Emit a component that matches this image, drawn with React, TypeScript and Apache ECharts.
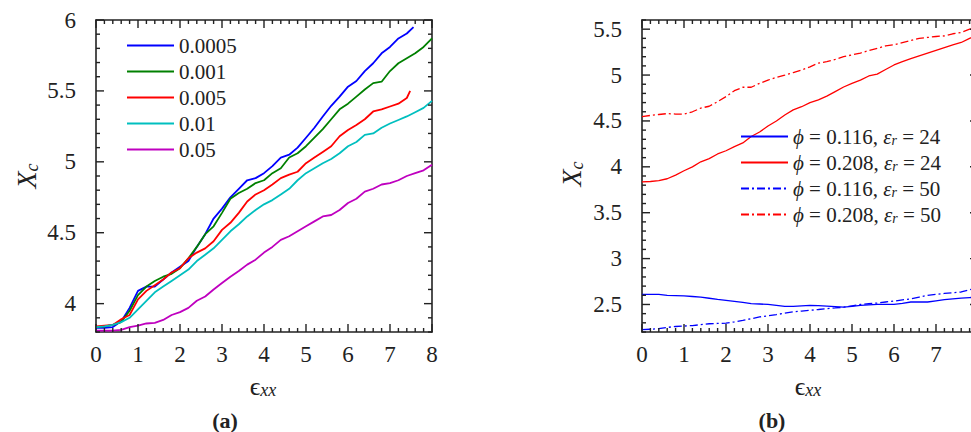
import React, { useEffect, useRef } from "react";
import * as echarts from "echarts";

const FONT = "Liberation Serif, DejaVu Serif, serif";
const INK = "#222222";

// shared strain grid (epsilon_xx), step 0.2
const strain: number[] = Array.from({ length: 41 }, (_, i) => Math.round(i * 2) / 10);

// ---------- panel (a) ----------
const namesA = ["0.0005", "0.001", "0.005", "0.01", "0.05"];
const colorsA = ["#0000ff", "#008000", "#ff0000", "#00bfbf", "#bf00bf"];
const rate0005 = [3.83, 3.83, 3.835, 3.875, 3.97, 4.09, 4.12, 4.12, 4.17, 4.22, 4.26, 4.3, 4.4, 4.49, 4.6, 4.67, 4.75, 4.81, 4.87, 4.885, 4.92, 4.97, 5.03, 5.05, 5.1, 5.17, 5.24, 5.32, 5.395, 5.46, 5.53, 5.57, 5.64, 5.695, 5.765, 5.81, 5.87, 5.905];
const rate0005End = [7.56, 5.95];
const rate001 = [3.835, 3.84, 3.85, 3.87, 3.95, 4.06, 4.12, 4.16, 4.19, 4.21, 4.25, 4.32, 4.4, 4.49, 4.545, 4.64, 4.74, 4.78, 4.81, 4.85, 4.87, 4.92, 4.955, 5.03, 5.06, 5.11, 5.17, 5.23, 5.3, 5.37, 5.41, 5.46, 5.51, 5.555, 5.565, 5.64, 5.695, 5.73, 5.765, 5.81, 5.87];
const rate005 = [3.84, 3.845, 3.85, 3.89, 3.92, 4.03, 4.09, 4.13, 4.17, 4.22, 4.25, 4.32, 4.36, 4.39, 4.44, 4.52, 4.57, 4.64, 4.72, 4.77, 4.8, 4.84, 4.885, 4.91, 4.93, 4.99, 5.03, 5.07, 5.11, 5.18, 5.225, 5.26, 5.3, 5.355, 5.37, 5.39, 5.41, 5.45];
const rate005End = [7.48, 5.5];
const rate01 = [3.835, 3.84, 3.85, 3.87, 3.9, 3.96, 4.02, 4.08, 4.12, 4.16, 4.2, 4.24, 4.3, 4.345, 4.39, 4.45, 4.51, 4.56, 4.615, 4.66, 4.7, 4.73, 4.77, 4.81, 4.87, 4.92, 4.955, 4.99, 5.02, 5.06, 5.11, 5.14, 5.19, 5.2, 5.24, 5.27, 5.295, 5.32, 5.35, 5.38, 5.43];
const rate05 = [3.81, 3.81, 3.81, 3.815, 3.835, 3.845, 3.86, 3.865, 3.885, 3.92, 3.94, 3.97, 4.02, 4.05, 4.1, 4.145, 4.19, 4.23, 4.275, 4.31, 4.36, 4.4, 4.45, 4.475, 4.51, 4.545, 4.58, 4.615, 4.625, 4.66, 4.71, 4.74, 4.79, 4.81, 4.84, 4.85, 4.87, 4.9, 4.92, 4.94, 4.98];
const yTickLabelsA = ["4", "4.5", "5", "5.5", "6"];

// ---------- panel (b) ----------
const namesB = ["p116e24", "p208e24", "p116e50", "p208e50"];
const labelsB = [
  "{i|ϕ} = 0.116, {i|ε}{s|r} = 24",
  "{i|ϕ} = 0.208, {i|ε}{s|r} = 24",
  "{i|ϕ} = 0.116, {i|ε}{s|r} = 50",
  "{i|ϕ} = 0.208, {i|ε}{s|r} = 50",
];
const colorsB = ["#0000ff", "#ff0000", "#0000ff", "#ff0000"];
const dashedB = [false, false, true, true];
const phi116e24 = [2.61, 2.61, 2.61, 2.6, 2.597, 2.593, 2.587, 2.58, 2.568, 2.556, 2.545, 2.534, 2.522, 2.51, 2.505, 2.5, 2.49, 2.48, 2.48, 2.485, 2.49, 2.487, 2.483, 2.477, 2.47, 2.48, 2.49, 2.495, 2.5, 2.5, 2.5, 2.513, 2.527, 2.527, 2.527, 2.54, 2.553, 2.562, 2.57, 2.575, 2.58];
const phi208e24 = [3.837, 3.84, 3.85, 3.87, 3.91, 3.957, 4.0, 4.055, 4.09, 4.14, 4.175, 4.22, 4.26, 4.33, 4.38, 4.445, 4.5, 4.565, 4.62, 4.655, 4.7, 4.73, 4.77, 4.82, 4.87, 4.91, 4.945, 4.99, 5.01, 5.06, 5.11, 5.147, 5.18, 5.21, 5.24, 5.27, 5.3, 5.33, 5.355, 5.4, 5.44];
const phi116e50 = [2.225, 2.23, 2.236, 2.25, 2.26, 2.265, 2.27, 2.28, 2.29, 2.293, 2.297, 2.31, 2.327, 2.345, 2.364, 2.377, 2.39, 2.405, 2.42, 2.428, 2.436, 2.445, 2.455, 2.462, 2.47, 2.485, 2.5, 2.508, 2.516, 2.527, 2.537, 2.55, 2.56, 2.58, 2.6, 2.61, 2.62, 2.628, 2.636, 2.66, 2.69];
const phi208e50 = [4.547, 4.56, 4.57, 4.58, 4.575, 4.575, 4.6, 4.64, 4.66, 4.71, 4.765, 4.83, 4.867, 4.867, 4.91, 4.945, 4.975, 5.0, 5.027, 5.056, 5.09, 5.13, 5.147, 5.17, 5.2, 5.22, 5.24, 5.267, 5.29, 5.318, 5.33, 5.354, 5.376, 5.4, 5.41, 5.42, 5.427, 5.45, 5.464, 5.5, 5.53];
const yTickLabelsB = ["2.5", "3", "3.5", "4", "4.5", "5", "5.5"];

const xTickLabels = ["0", "1", "2", "3", "4", "5", "6", "7", "8"];

function pairs(ys: number[], end?: number[]) {
  const out: number[][] = ys.map((y, i) => [strain[i], y]);
  if (end) out.push(end);
  return out;
}

type Tick = { kind: "x" | "y"; v: number; len: number };

function tickSpecs(yMin: number, yMax: number, yMajors: string[]): Tick[] {
  const out: Tick[] = [];
  for (let i = 0; i <= 40; i++) out.push({ kind: "x", v: Math.round(i * 2) / 10, len: i % 5 === 0 ? 8 : 4 });
  const n = Math.round((yMax - yMin) * 10);
  for (let i = 0; i <= n; i++) {
    const v = Math.round((yMin + i / 10) * 10) / 10;
    out.push({ kind: "y", v, len: yMajors.indexOf(String(v)) >= 0 ? 8 : 4 });
  }
  return out;
}

const labelStyle = { color: INK, fontFamily: FONT, fontSize: 23 };

function xAxes(grid: number) {
  const base = (pos: string, showLabel: boolean) => ({
    type: "value",
    gridIndex: grid,
    position: pos,
    min: 0,
    max: 8,
    interval: 1,
    axisLine: { show: true, onZero: false, lineStyle: { color: INK, width: 1.6 } },
    axisTick: { show: false },
    splitLine: { show: false },
    axisLabel: showLabel
      ? { ...labelStyle, margin: 11, formatter: (v: number) => xTickLabels[Math.round(v)] ?? "" }
      : { show: false },
  });
  return [base("bottom", true), base("top", false)];
}

function yAxes(grid: number, min: number, max: number, labels: string[]) {
  const ax = (pos: string, showLabel: boolean) => ({
    type: "value",
    gridIndex: grid,
    position: pos,
    min,
    max,
    splitNumber: 5,
    axisLine: { show: true, onZero: false, lineStyle: { color: INK, width: 1.6 } },
    axisTick: { show: false },
    splitLine: { show: false },
    axisLabel: showLabel
      ? {
          ...labelStyle,
          margin: 20,
          formatter: (v: number) => {
            const s = String(Math.round(v * 10) / 10);
            return labels.indexOf(s) >= 0 ? s : "";
          },
        }
      : { show: false },
  });
  return [ax("left", true), ax("right", false)];
}

export default function App() {
  const ref = useRef<HTMLDivElement>(null);
  useEffect(() => {
    if (!ref.current) return;
    const chart = echarts.init(ref.current, null, { renderer: "svg" });
    const seriesA = [
      pairs(rate0005, rate0005End),
      pairs(rate001),
      pairs(rate005, rate005End),
      pairs(rate01),
      pairs(rate05),
    ].map((d, i) => ({
      type: "line",
      name: namesA[i],
      xAxisIndex: 0,
      yAxisIndex: 0,
      data: d,
      symbol: "none",
      showSymbol: false,
      color: colorsA[i],
      lineStyle: { color: colorsA[i], width: 1.8 },
    }));
    const seriesB = [phi116e24, phi208e24, phi116e50, phi208e50].map((ys, i) => ({
      type: "line",
      name: namesB[i],
      xAxisIndex: 2,
      yAxisIndex: 2,
      data: pairs(ys),
      symbol: "none",
      showSymbol: false,
      color: colorsB[i],
      lineStyle: { color: colorsB[i], width: 1.3, type: dashedB[i] ? [8, 3, 2, 3] : "solid" },
    }));
    const richB = {
      i: { fontStyle: "italic", fontFamily: FONT, fontSize: 21, lineHeight: 21, color: INK },
      s: { fontStyle: "italic", fontFamily: FONT, fontSize: 14, lineHeight: 10, verticalAlign: "bottom", color: INK },
    };
    const yTitle = (id: string, x: number, y: number) => ({
      id,
      type: "text",
      x,
      y,
      rotation: Math.PI / 2,
      style: {
        text: "{x|X}{s|c}",
        align: "center",
        verticalAlign: "middle",
        fill: INK,
        rich: {
          x: { fontFamily: FONT, fontStyle: "italic", fontSize: 28, lineHeight: 30, fill: INK },
          s: { fontFamily: FONT, fontStyle: "italic", fontSize: 18, lineHeight: 14, verticalAlign: "bottom", fill: INK },
        },
      },
    });
    const texts: any[] = [
      yTitle("ya", 26, 176),
      yTitle("yb", 571, 174),
      ...[263, 808].map((cx, k) => ({
        id: "xt" + k,
        type: "text",
        x: cx,
        y: 386,
        style: {
          text: "{e|ϵ}{s|xx}",
          align: "center",
          verticalAlign: "middle",
          fill: INK,
          rich: {
            e: { fontFamily: FONT, fontSize: 26, lineHeight: 26, fill: INK },
            s: { fontFamily: FONT, fontStyle: "italic", fontSize: 18, lineHeight: 14, verticalAlign: "bottom", fill: INK },
          },
        },
      })),
      {
        id: "capA",
        type: "text",
        x: 225,
        y: 420,
        style: { text: "(a)", align: "center", verticalAlign: "middle", fill: INK, fontFamily: FONT, fontSize: 22, fontWeight: "bold" },
      },
      {
        id: "capB",
        type: "text",
        x: 772,
        y: 420,
        style: { text: "(b)", align: "center", verticalAlign: "middle", fill: INK, fontFamily: FONT, fontSize: 22, fontWeight: "bold" },
      },
    ];
    chart.setOption({
      animation: false,
      grid: [
        { left: 96, top: 20, width: 336, height: 312 },
        { left: 642, top: 20, width: 336, height: 312 },
      ],
      xAxis: [...xAxes(0), ...xAxes(1)],
      yAxis: [...yAxes(0, 3.8, 6, yTickLabelsA), ...yAxes(1, 2.2, 5.6, yTickLabelsB)],
      legend: [
        {
          data: namesA,
          orient: "vertical",
          left: 126,
          top: 35,
          padding: 0,
          itemWidth: 47,
          itemHeight: 14,
          itemGap: 5,
          itemStyle: { opacity: 0 },
          textStyle: { color: INK, fontFamily: FONT, fontSize: 21, lineHeight: 21 },
        },
        {
          data: namesB,
          orient: "vertical",
          left: 740,
          top: 126,
          padding: 0,
          itemWidth: 47,
          itemHeight: 14,
          itemGap: 5,
          itemStyle: { opacity: 0 },
          formatter: (name: string) => labelsB[namesB.indexOf(name)],
          textStyle: { color: INK, fontFamily: FONT, fontSize: 21, lineHeight: 21, rich: richB },
        },
      ],
      graphic: texts,
      series: [...seriesA, ...seriesB],
    });

    // tick marks, positioned through the chart's own axis scales
    const tickRects: any[] = [];
    const w = 1.4;
    const addTicks = (xIdx: number, yIdx: number, yMin: number, yMax: number, majors: string[], tag: string) => {
      const finder = { xAxisIndex: xIdx, yAxisIndex: yIdx };
      tickSpecs(yMin, yMax, majors).forEach((t, k) => {
        if (t.kind === "x") {
          const b = chart.convertToPixel(finder as any, [t.v, yMin]) as number[];
          const tp = chart.convertToPixel(finder as any, [t.v, yMax]) as number[];
          if (!b || !tp) return;
          tickRects.push({ id: tag + "xb" + k, type: "rect", silent: true, z: 100, shape: { x: b[0] - w / 2, y: b[1] - t.len, width: w, height: t.len }, style: { fill: INK } });
          tickRects.push({ id: tag + "xt" + k, type: "rect", silent: true, z: 100, shape: { x: tp[0] - w / 2, y: tp[1], width: w, height: t.len }, style: { fill: INK } });
        } else {
          const l = chart.convertToPixel(finder as any, [0, t.v]) as number[];
          const r = chart.convertToPixel(finder as any, [8, t.v]) as number[];
          if (!l || !r) return;
          tickRects.push({ id: tag + "yl" + k, type: "rect", silent: true, z: 100, shape: { x: l[0], y: l[1] - w / 2, width: t.len, height: w }, style: { fill: INK } });
          tickRects.push({ id: tag + "yr" + k, type: "rect", silent: true, z: 100, shape: { x: r[0] - t.len, y: r[1] - w / 2, width: t.len, height: w }, style: { fill: INK } });
        }
      });
    };
    addTicks(0, 0, 3.8, 6, yTickLabelsA, "a");
    addTicks(2, 2, 2.2, 5.6, yTickLabelsB, "b");
    chart.setOption({ graphic: [...texts, ...tickRects] });

    return () => chart.dispose();
  }, []);
  return (
    <div style={{ position: "fixed", left: 0, top: 0, width: 971, height: 432, overflow: "hidden", background: "#fff" }}>
      <div ref={ref} style={{ width: 1000, height: 432 }} />
    </div>
  );
}
